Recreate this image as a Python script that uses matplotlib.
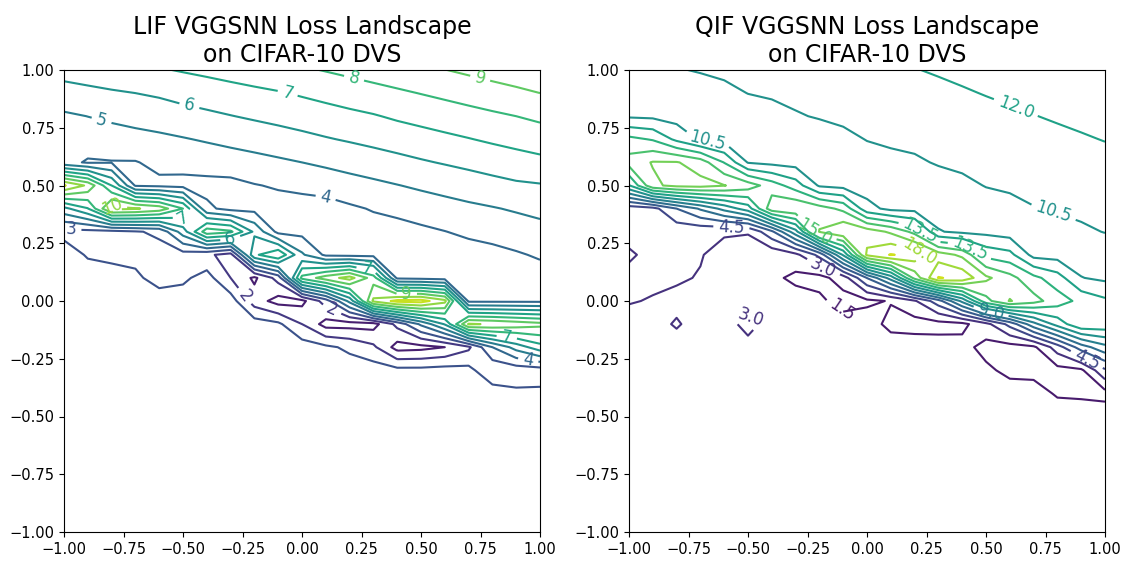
import numpy as np
import matplotlib
matplotlib.use("Agg")
import matplotlib.pyplot as plt

# grid coordinates
x_coords = [-1.0, -0.9, -0.8, -0.7, -0.6, -0.5, -0.4, -0.3, -0.2, -0.1, 0.0,
            0.1, 0.2, 0.3, 0.4, 0.5, 0.6, 0.7, 0.8, 0.9, 1.0]
y_coords = [1.0, 0.9, 0.8, 0.7, 0.6, 0.5, 0.4, 0.3, 0.2, 0.1, 0.0,
            -0.1, -0.2, -0.3, -0.4, -0.5, -1.0]

# LIF loss values, one list per x (top to bottom in y)
lif_loss_by_x = [
    [6.36, 5.62, 4.85, 4.45, 4.3, 11.1, 5.7, 2.7, 3.5, 3.5, 3.5, 3.5, 3.5, 3.5, 3.5, 3.5, 3.5],
    [6.49, 5.76, 5.01, 4.49, 3.9, 9.8, 6.95, 2.7, 2.9, 3.5, 3.5, 3.5, 3.5, 3.5, 3.5, 3.5, 3.5],
    [6.63, 5.89, 5.17, 4.59, 3.95, 7.0, 10.3, 2.7, 2.7, 3.5, 3.5, 3.5, 3.5, 3.5, 3.5, 3.5, 3.5],
    [6.77, 6.0, 5.32, 4.70, 3.95, 3.9, 10.1, 2.9, 2.7, 3.2, 3.5, 3.5, 3.5, 3.5, 3.5, 3.5, 3.5],
    [6.92, 6.14, 5.45, 4.81, 4.23, 3.8, 9.6, 3.2, 2.6, 2.6, 3.5, 3.5, 3.5, 3.5, 3.5, 3.5, 3.5],
    [7.07, 6.35, 5.63, 4.94, 4.33, 3.7, 8.0, 5.5, 2.6, 2.8, 3.5, 3.5, 3.5, 3.5, 3.5, 3.5, 3.5],
    [7.21, 6.51, 5.8, 5.09, 4.44, 3.7, 4.2, 8.6, 2.2, 3.4, 3.5, 3.5, 3.5, 3.5, 3.5, 3.5, 3.5],
    [7.36, 6.66, 5.97, 5.25, 4.56, 3.7, 3.7, 8.2, 1.6, 2.0, 3.5, 3.5, 3.5, 3.5, 3.5, 3.5, 3.5],
    [7.51, 6.8, 6.13, 5.41, 4.69, 3.95, 3.7, 5.8, 6.8, 0.8, 1.5, 3.5, 3.5, 3.5, 3.5, 3.5, 3.5],
    [7.69, 6.93, 6.28, 5.58, 4.84, 4.10, 3.6, 3.7, 7.9, 2.4, 0.6, 3.2, 3.5, 3.5, 3.5, 3.5, 3.5],
    [7.87, 7.11, 6.44, 5.75, 5.0, 4.23, 3.6, 3.7, 5.15, 8.3, 0.7, 2.0, 3.5, 3.5, 3.5, 3.5, 3.5],
    [8.05, 7.3, 6.6, 5.93, 5.18, 4.4, 3.6, 3.7, 3.8, 9.5, 2.5, 0.6, 3.2, 3.5, 3.5, 3.5, 3.5],
    [8.23, 7.49, 6.77, 6.09, 5.36, 4.61, 3.85, 3.6, 3.7, 10.4, 5.3, 0.6, 2.8, 3.5, 3.5, 3.5, 3.5],
    [8.41, 7.67, 6.93, 6.26, 5.53, 4.79, 4.07, 3.6, 3.7, 8.5, 10.2, 0.6, 2.2, 3.5, 3.5, 3.5, 3.5],
    [8.59, 7.85, 7.14, 6.44, 5.71, 4.97, 4.28, 3.6, 3.6, 3.8, 11.3, 2.3, 0.6, 3.3, 3.5, 3.5, 3.5],
    [8.79, 8.03, 7.32, 6.61, 5.9, 5.15, 4.47, 3.8, 3.6, 3.7, 11.4, 4.2, 0.7, 3.3, 3.5, 3.5, 3.5],
    [8.98, 8.21, 7.49, 6.79, 6.07, 5.32, 4.64, 3.98, 3.6, 3.6, 10.3, 6.1, 1.0, 3.4, 3.5, 3.5, 3.5],
    [9.18, 8.4, 7.66, 6.96, 6.24, 5.5, 4.8, 4.18, 3.6, 3.6, 3.8, 10.1, 1.8, 3.3, 3.5, 3.5, 3.5],
    [9.38, 8.6, 7.83, 7.14, 6.42, 5.68, 4.94, 4.35, 3.7, 3.6, 3.8, 9.9, 4.0, 2.2, 3.5, 3.5, 3.5],
    [9.57, 8.79, 8.0, 7.31, 6.59, 5.85, 5.1, 4.51, 3.9, 3.6, 3.8, 9.6, 5.4, 2.4, 3.2, 3.5, 3.5],
    [9.77, 9.0, 8.2, 7.48, 6.75, 5.93, 5.27, 4.67, 4.11, 3.6, 3.8, 9.3, 6.6, 2.5, 3.2, 3.5, 3.5],
]

# QIF loss values, one list per x (top to bottom in y)
qif_loss_by_x = [
    [10.0, 9.9, 10.3, 13.92, 15.63, 11.87, 3.6, 3.5, 2.8, 3.4, 3.1, 2.4, 2.4, 2.4, 2.4, 2.4, 2.4],
    [10.0, 9.8, 10.2, 13.37, 16.6, 16.2, 3.99, 3.5, 3.4, 3.3, 2.9, 2.5, 2.4, 2.4, 2.4, 2.4, 2.4],
    [10.4, 9.8, 9.9, 11.65, 16.6, 16.9, 6.0, 3.5, 3.4, 3.2, 2.6, 3.15, 2.4, 2.4, 2.4, 2.4, 2.4],
    [10.61, 9.8, 9.85, 10.3, 15.8, 17.0, 7.7, 3.4, 3.1, 2.9, 2.4, 2.4, 2.4, 2.4, 2.4, 2.4, 2.4],
    [10.74, 10.2, 9.8, 10.0, 13.44, 16.56, 9.5, 3.2, 2.4, 2.4, 2.4, 2.5, 2.4, 2.4, 2.4, 2.4, 2.4],
    [10.88, 10.52, 9.9, 9.8, 10.4, 15.77, 11.28, 3.1, 2.3, 2.2, 2.4, 3.4, 2.6, 2.4, 2.4, 2.4, 2.4],
    [11.03, 10.65, 10.1, 9.8, 10.1, 14.26, 16.0, 5.68, 1.9, 1.9, 2.4, 2.5, 2.4, 2.4, 2.4, 2.4, 2.4],
    [11.18, 10.8, 10.4, 9.8, 9.9, 12.75, 16.41, 9.95, 2.6, 1.1, 2.3, 2.4, 2.4, 2.4, 2.4, 2.4, 2.4],
    [11.33, 10.96, 10.59, 9.9, 9.8, 10.3, 15.67, 16.6, 4.94, 1.0, 1.8, 2.4, 2.4, 2.4, 2.4, 2.4, 2.4],
    [11.5, 11.12, 10.75, 10.2, 9.8, 10.0, 14.62, 17.9, 10.7, 2.2, 0.9, 2.2, 2.4, 2.4, 2.4, 2.4, 2.4],
    [11.65, 11.28, 10.91, 10.54, 10.0, 9.8, 11.0, 17.3, 18.3, 6.04, 1.2, 2.3, 2.4, 2.4, 2.4, 2.4, 2.4],
    [11.8, 11.43, 11.06, 10.69, 10.2, 9.8, 10.1, 16.25, 19.6, 9.64, 1.6, 1.0, 2.4, 2.4, 2.4, 2.4, 2.4],
    [11.96, 11.58, 11.21, 10.84, 10.3, 9.8, 10.0, 14.55, 19.0, 15.5, 2.8, 0.9, 2.3, 2.4, 2.4, 2.4, 2.4],
    [12.11, 11.73, 11.36, 10.99, 10.61, 9.9, 9.85, 10.6, 17.24, 19.6, 5.36, 1.0, 2.1, 2.4, 2.4, 2.4, 2.4],
    [12.26, 11.89, 11.52, 11.14, 10.77, 10.2, 9.8, 10.2, 16.17, 19.1, 9.4, 1.1, 2.0, 2.4, 2.4, 2.4, 2.4],
    [12.42, 12.05, 11.67, 11.3, 10.92, 10.55, 9.9, 10.1, 13.0, 16.82, 14.5, 2.5, 1.0, 1.8, 2.4, 2.4, 2.4],
    [12.57, 12.2, 11.82, 11.45, 11.07, 10.7, 10.1, 9.8, 12.46, 15.52, 16.6, 5.0, 0.9, 1.1, 2.2, 2.4, 2.4],
    [12.72, 12.34, 11.97, 11.6, 11.22, 10.85, 10.45, 9.8, 10.0, 13.92, 15.54, 8.49, 1.2, 1.0, 2.2, 2.4, 2.4],
    [12.87, 12.49, 12.12, 11.74, 11.37, 11.0, 10.63, 10.0, 9.9, 12.65, 14.22, 11.11, 3.74, 1.0, 1.3, 2.4, 2.4],
    [13.01, 12.64, 12.26, 11.89, 11.51, 11.14, 10.77, 10.3, 9.8, 10.55, 13.08, 13.3, 6.78, 1.2, 1.2, 2.4, 2.4],
    [13.16, 12.79, 12.41, 12.04, 11.66, 11.29, 10.91, 10.54, 9.8, 10.2, 12.28, 13.1, 8.53, 4.28, 1.0, 2.4, 2.4],
]

lif_levels = [0, 1, 2, 3, 4, 5, 6, 7, 8, 9, 10, 11, 12]
qif_levels = [0.0, 1.5, 3.0, 4.5, 6.0, 7.5, 9.0, 10.5, 12.0, 13.5, 15.0, 16.5, 18.0, 19.5, 21.0]

lif_title = "LIF VGGSNN Loss Landscape\non CIFAR-10 DVS"
qif_title = "QIF VGGSNN Loss Landscape\non CIFAR-10 DVS"

tick_values = [-1.0, -0.75, -0.5, -0.25, 0.0, 0.25, 0.5, 0.75, 1.0]

# approximate label positions (where labels sit in the reference)
lif_label_pts = [(-0.84, 0.79), (-0.47, 0.86), (-0.06, 0.90), (0.22, 0.97), (0.75, 0.97),
                 (0.10, 0.45), (-0.97, 0.31), (-0.23, 0.03), (0.12, -0.05),
                 (-0.80, 0.42), (-0.50, 0.36), (0.44, 0.03), (0.86, -0.16), (0.95, -0.26),
                 (-0.30, 0.26), (0.27, 0.13)]
qif_label_pts = [(-0.67, 0.70), (0.63, 0.85), (0.78, 0.37), (-0.57, 0.31), (0.22, 0.30),
                 (0.43, 0.22), (0.22, 0.22), (-0.19, 0.13), (-0.10, -0.03), (-0.47, -0.05),
                 (0.52, -0.05), (0.92, -0.26), (-0.22, 0.30)]

fig = plt.figure(figsize=(11.27, 5.72), dpi=100)
ax1 = fig.add_axes([64 / 1127, 40 / 572, 476 / 1127, 462 / 572])
ax2 = fig.add_axes([629 / 1127, 40 / 572, 476 / 1127, 462 / 572])

X = np.array(x_coords)
Y = np.array(y_coords)[::-1]

for ax, cols, levels, title, pts in [
    (ax1, lif_loss_by_x, lif_levels, lif_title, lif_label_pts),
    (ax2, qif_loss_by_x, qif_levels, qif_title, qif_label_pts),
]:
    Z = np.array(cols, dtype=float).T[::-1]
    cs = ax.contour(X, Y, Z, levels=levels, cmap="viridis", linewidths=1.5)
    try:
        ax.clabel(cs, inline=True, fontsize=12, manual=pts)
    except Exception:
        ax.clabel(cs, inline=True, fontsize=12)
    ax.set_xlim(-1, 1)
    ax.set_ylim(-1, 1)
    ax.set_xticks(tick_values)
    ax.set_yticks(tick_values)
    ax.tick_params(labelsize=10.5)
    ax.set_title(title, fontsize=17)

fig.savefig("out.png", dpi=100)
